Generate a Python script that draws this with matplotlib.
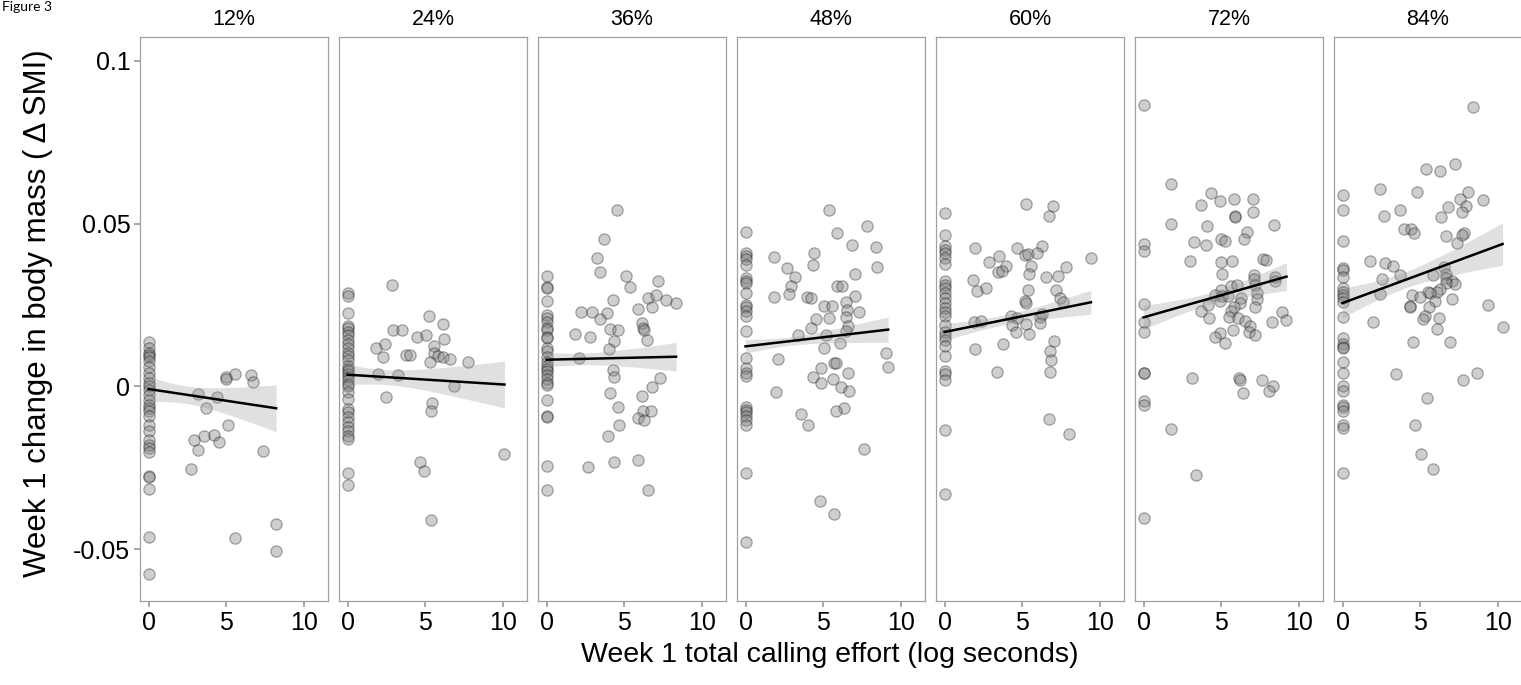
import numpy as np
import matplotlib
matplotlib.use('Agg')
import matplotlib.pyplot as plt

# ---- data ----
panels = ['12%', '24%', '36%', '48%', '60%', '72%', '84%']

# birds with zero calling effort (x = 0), change in SMI
zero_12 = [0.0135, 0.0118, 0.0102, 0.0097, 0.0090, 0.0077, 0.0061, 0.0041, 0.0026, 0.0010,
           0.0, -0.0010, -0.0026, -0.0041, -0.0056, -0.0067, -0.0077, -0.0092, -0.0118,
           -0.0138, -0.0164, -0.0179, -0.0190, -0.0200, -0.0275, -0.0279, -0.0316, -0.0461, -0.0577]
zero_24 = [0.0287, 0.0278, 0.0224, 0.0187, 0.0178, 0.0167, 0.0159, 0.0144, 0.0131, 0.0117,
           0.0102, 0.0094, 0.0080, 0.0063, 0.0054, 0.0046, 0.0038, 0.0029, 0.0019, 0.0008,
           0.0000, -0.0017, -0.0038, -0.0068, -0.0079, -0.0094, -0.0108, -0.0125, -0.0136,
           -0.0151, -0.0162, -0.0265, -0.0303]
zero_36 = [0.0339, 0.0304, 0.0301, 0.0261, 0.0218, 0.0210, 0.0199, 0.0178, 0.0174, 0.0151,
           0.0148, 0.0117, 0.0108, 0.0091, 0.0074, 0.0063, 0.0054, 0.0046, 0.0034, 0.0023,
           0.0011, 0.0003, -0.0042, -0.0091, -0.0094, -0.0244, -0.0318]
zero_48 = [0.0475, 0.0409, 0.0400, 0.0392, 0.0373, 0.0333, 0.0324, 0.0318, 0.0287, 0.0250,
           0.0244, 0.0233, 0.0216, 0.0170, 0.0087, 0.0057, 0.0040, 0.0032, -0.0062, -0.0071,
           -0.0079, -0.0091, -0.0102, -0.0117, -0.0267, -0.0477]
zero_60 = [0.0534, 0.0466, 0.0432, 0.0420, 0.0409, 0.0394, 0.0375, 0.0324, 0.0312, 0.0301,
           0.0287, 0.0273, 0.0256, 0.0242, 0.0227, 0.0216, 0.0188, 0.0167, 0.0156, 0.0142,
           0.0125, 0.0094, 0.0046, 0.0038, 0.0019, -0.0133, -0.0329]
zero_72 = [0.0865, 0.0437, 0.0415, 0.0253, 0.0199, 0.0167, 0.0042, 0.0040, -0.0045, -0.0057, -0.0403]
zero_84 = [0.0588, 0.0543, 0.0445, 0.0363, 0.0358, 0.0337, 0.0301, 0.0290, 0.0281, 0.0270,
           0.0259, 0.0214, 0.0148, 0.0131, 0.0122, 0.0117, 0.0076, 0.0042, 0.0000, -0.0015,
           -0.0057, -0.0062, -0.0074, -0.0119, -0.0128, -0.0267]

# birds that called: (log seconds, change in SMI)
x_12 = [4.96, 5.0, 5.56, 6.62, 6.72, 3.21, 4.38, 3.69, 5.13, 3.60, 4.20, 2.95, 4.53, 3.19,
        7.39, 2.72, 8.21, 5.56, 8.21]
y_12 = [0.0029, 0.0022, 0.0039, 0.0036, 0.0015, -0.0024, -0.0031, -0.0065, -0.0118, -0.0151,
        -0.0149, -0.0164, -0.0171, -0.0195, -0.0198, -0.0254, -0.0424, -0.0464, -0.0505]

x_24 = [2.84, 5.22, 6.17, 2.94, 3.53, 4.50, 5.04, 6.19, 1.80, 2.40, 2.29, 3.74, 4.00, 5.58,
        5.58, 5.80, 6.13, 6.58, 5.30, 7.75, 1.95, 3.27, 6.88, 2.49, 5.41, 5.37, 10.1, 4.65,
        4.89, 5.37]
y_24 = [0.0312, 0.0215, 0.0192, 0.0174, 0.0174, 0.0153, 0.0159, 0.0147, 0.0119, 0.0131,
        0.0089, 0.0097, 0.0097, 0.0125, 0.0102, 0.0094, 0.0089, 0.0085, 0.0074, 0.0076,
        0.0038, 0.0034, 0.0000, -0.0032, -0.0051, -0.0076, -0.0208, -0.0233, -0.0261, -0.0409]

x_36 = [4.54, 3.68, 3.25, 3.46, 5.12, 5.40, 7.16, 4.30, 6.56, 7.05, 6.77, 7.70, 8.34, 5.91,
        2.22, 2.90, 3.89, 3.46, 6.13, 4.09, 4.62, 6.24, 6.30, 1.81, 2.80, 4.32, 6.47, 4.04,
        2.11, 4.30, 4.37, 7.31, 6.80, 4.11, 6.13, 4.58, 6.24, 6.73, 5.91, 6.30, 4.69, 3.98,
        2.65, 4.32, 5.87, 6.56]
y_36 = [0.0542, 0.0454, 0.0394, 0.0352, 0.0339, 0.0304, 0.0324, 0.0265, 0.0270, 0.0281,
        0.0244, 0.0264, 0.0256, 0.0239, 0.0227, 0.0229, 0.0225, 0.0207, 0.0195, 0.0176,
        0.0174, 0.0178, 0.0174, 0.0161, 0.0153, 0.0140, 0.0142, 0.0114, 0.0088, 0.0049,
        0.0028, 0.0026, -0.0002, -0.0019, -0.0028, -0.0062, -0.0074, -0.0074, -0.0096,
        -0.0104, -0.0117, -0.0151, -0.0248, -0.0233, -0.0227, -0.0318]

x_48 = [5.35, 7.83, 5.91, 6.86, 8.37, 4.39, 1.81, 4.32, 2.67, 8.49, 3.16, 7.03, 2.95, 5.89,
        6.24, 2.80, 1.81, 3.98, 4.24, 7.03, 5.05, 5.59, 6.49, 6.54, 7.31, 4.54, 5.38, 6.49,
        4.19, 6.60, 3.38, 5.20, 6.49, 6.06, 5.05, 9.03, 2.11, 5.70, 5.85, 9.18, 4.84, 6.60,
        4.34, 5.63, 4.84, 6.13, 6.65, 1.98, 6.34, 5.81, 3.59, 4.02, 7.61, 4.77, 5.70]
y_48 = [0.0543, 0.0492, 0.0471, 0.0434, 0.0428, 0.0409, 0.0398, 0.0373, 0.0363, 0.0366,
        0.0335, 0.0344, 0.0307, 0.0307, 0.0307, 0.0284, 0.0275, 0.0276, 0.0273, 0.0278,
        0.0248, 0.0248, 0.0259, 0.0236, 0.0229, 0.0208, 0.0210, 0.0212, 0.0180, 0.0185,
        0.0159, 0.0159, 0.0170, 0.0133, 0.0117, 0.0102, 0.0085, 0.0072, 0.0072, 0.0059,
        0.0057, 0.0040, 0.0028, 0.0023, 0.0009, -0.0002, -0.0014, -0.0017, -0.0065,
        -0.0077, -0.0085, -0.0119, -0.0193, -0.0352, -0.0392]

x_60 = [5.27, 6.99, 6.73, 1.94, 4.69, 6.30, 5.16, 5.38, 5.98, 3.48, 9.42, 2.84, 3.98, 5.59,
        7.81, 3.44, 3.70, 5.42, 6.52, 7.31, 1.83, 2.09, 2.65, 5.38, 7.16, 7.42, 7.63, 5.16,
        5.23, 1.87, 2.32, 4.26, 4.69, 4.34, 5.23, 6.13, 6.30, 6.13, 4.62, 5.42, 7.03, 3.76,
        1.94, 6.77, 6.88, 3.38, 6.77, 6.73, 8.02]
y_60 = [0.0560, 0.0553, 0.0522, 0.0426, 0.0426, 0.0432, 0.0403, 0.0407, 0.0411, 0.0401,
        0.0394, 0.0383, 0.0369, 0.0369, 0.0367, 0.0352, 0.0355, 0.0346, 0.0335, 0.0339,
        0.0326, 0.0293, 0.0303, 0.0295, 0.0295, 0.0273, 0.0258, 0.0261, 0.0256, 0.0199,
        0.0202, 0.0216, 0.0210, 0.0190, 0.0193, 0.0212, 0.0221, 0.0195, 0.0167, 0.0161,
        0.0139, 0.0131, 0.0114, 0.0110, 0.0082, 0.0043, 0.0043, -0.0100, -0.0145]

x_72 = [1.78, 4.37, 3.68, 4.90, 5.83, 7.05, 5.87, 5.87, 7.05, 1.78, 4.11, 8.41, 6.67, 6.47,
        4.97, 5.23, 3.25, 4.00, 2.97, 4.97, 5.72, 7.70, 7.91, 5.06, 7.10, 7.12, 8.49, 8.49,
        5.61, 6.04, 7.16, 4.97, 4.58, 5.06, 5.44, 6.26, 7.27, 7.27, 4.90, 4.15, 6.19, 7.20,
        5.83, 5.66, 3.68, 8.88, 4.22, 5.51, 6.09, 6.52, 9.20, 8.28, 6.84, 5.76, 4.90, 6.77,
        7.16, 4.62, 5.23, 3.12, 6.13, 6.24, 7.63, 8.34, 8.06, 6.41, 1.78, 3.40]
y_72 = [0.0621, 0.0593, 0.0557, 0.0570, 0.0577, 0.0574, 0.0522, 0.0520, 0.0536, 0.0500,
        0.0494, 0.0496, 0.0474, 0.0452, 0.0454, 0.0445, 0.0443, 0.0434, 0.0386, 0.0381,
        0.0384, 0.0392, 0.0389, 0.0346, 0.0341, 0.0329, 0.0335, 0.0324, 0.0309, 0.0312,
        0.0312, 0.0295, 0.0281, 0.0278, 0.0278, 0.0273, 0.0287, 0.0267, 0.0261, 0.0250,
        0.0256, 0.0244, 0.0244, 0.0231, 0.0231, 0.0227, 0.0210, 0.0214, 0.0210, 0.0201,
        0.0204, 0.0199, 0.0184, 0.0173, 0.0165, 0.0167, 0.0159, 0.0151, 0.0133, 0.0026,
        0.0026, 0.0019, 0.0019, 0.0002, -0.0014, -0.0020, -0.0131, -0.0273]

x_84 = [8.37, 7.25, 5.39, 6.29, 2.42, 4.79, 8.05, 7.53, 9.01, 7.96, 6.76, 3.67, 7.68, 2.64,
        6.33, 3.93, 4.40, 4.57, 7.79, 7.68, 6.65, 7.36, 1.78, 2.75, 3.24, 6.50, 3.71, 5.79,
        6.65, 6.65, 2.53, 7.04, 7.21, 6.65, 6.29, 6.07, 5.49, 5.64, 2.42, 4.46, 4.99, 7.06,
        5.97, 9.36, 4.31, 4.31, 5.54, 1.95, 6.22, 5.32, 5.15, 6.07, 10.3, 4.51, 6.93, 3.43,
        8.65, 7.73, 5.43, 4.64, 5.06, 5.79]
y_84 = [0.0857, 0.0684, 0.0667, 0.0663, 0.0605, 0.0596, 0.0596, 0.0574, 0.0571, 0.0554,
        0.0551, 0.0542, 0.0537, 0.0522, 0.0521, 0.0483, 0.0483, 0.0471, 0.0471, 0.0466,
        0.0463, 0.0441, 0.0386, 0.0378, 0.0369, 0.0367, 0.0343, 0.0341, 0.0346, 0.0333,
        0.0329, 0.0324, 0.0315, 0.0318, 0.0298, 0.0290, 0.0290, 0.0286, 0.0284, 0.0282,
        0.0276, 0.0267, 0.0261, 0.0250, 0.0247, 0.0245, 0.0244, 0.0199, 0.0210, 0.0216,
        0.0207, 0.0176, 0.0182, 0.0136, 0.0136, 0.0038, 0.0042, 0.0019, -0.0037, -0.0117,
        -0.0208, -0.0253]

zeros = [zero_12, zero_24, zero_36, zero_48, zero_60, zero_72, zero_84]
xs_call = [x_12, x_24, x_36, x_48, x_60, x_72, x_84]
ys_call = [y_12, y_24, y_36, y_48, y_60, y_72, y_84]

# fitted line (model prediction) at x = 0 and slope per log second
fit_icpt = [-0.0008, 0.0036, 0.0082, 0.0123, 0.0167, 0.0212, 0.0256]
fit_slope = [-0.00072, -0.0003, 0.00011, 0.00056, 0.00097, 0.00136, 0.00176]
# half-width of the confidence ribbon: at x = 0, narrowest, at the last x
band_start = [0.0038, 0.0031, 0.0023, 0.0021, 0.0026, 0.0037, 0.0045]
band_min = [0.0027, 0.0023, 0.0018, 0.0013, 0.0015, 0.0018, 0.0025]
band_end = [0.0072, 0.0072, 0.0044, 0.0039, 0.0037, 0.0043, 0.0065]

# ---- figure ----
W, H = 1521, 685
fig = plt.figure(figsize=(W / 100, H / 100), dpi=100)
plt.rcParams['font.family'] = ['Liberation Sans', 'DejaVu Sans']

frame_col = '#a0a0a0'
for i, name in enumerate(panels):
    left = 140 + i * 199.0
    ax = fig.add_axes([left / W, 1 - 601 / H, 188 / W, 564 / H])

    x_all = np.concatenate([np.zeros(len(zeros[i])), xs_call[i]])
    y_all = np.concatenate([zeros[i], ys_call[i]])
    ax.scatter(x_all, y_all, s=66, facecolor=(0.5, 0.5, 0.5, 0.38),
               edgecolor=(0, 0, 0, 0.32), linewidth=0.9, zorder=2)

    # ribbon + line over the range of the data
    xe = max(xs_call[i])
    h0, hm, h1 = band_start[i], band_min[i], band_end[i]
    r = np.sqrt((h0 ** 2 - hm ** 2) / (h1 ** 2 - hm ** 2))
    x0 = r * xe / (1 + r)
    k = (h0 ** 2 - hm ** 2) / x0 ** 2
    xx = np.linspace(0, xe, 100)
    yy = fit_icpt[i] + fit_slope[i] * xx
    hw = np.sqrt(hm ** 2 + k * (xx - x0) ** 2)
    ax.fill_between(xx, yy - hw, yy + hw, color='#999999', alpha=0.3, lw=0, zorder=3)
    ax.plot(xx, yy, color='black', lw=1.8, zorder=4)

    ax.set_xlim(-0.55, 11.55)
    ax.set_ylim(-0.0659, 0.1073)
    ax.set_xticks([0, 5, 10])
    ax.set_xticklabels(['0', '5', '10'])
    ax.set_yticks([-0.05, 0, 0.05, 0.1])
    if i == 0:
        ax.set_yticklabels(['-0.05', '0', '0.05', '0.1'])
    else:
        ax.tick_params(axis='y', left=False, labelleft=False)
    ax.tick_params(length=4, width=1.3, color=frame_col, labelsize=18, pad=3)
    for sp in ax.spines.values():
        sp.set_color(frame_col)
        sp.set_linewidth(0.9)
    ax.text(0.5, 1.012, name, transform=ax.transAxes, ha='center', va='bottom', fontsize=15.5)

fig.text(830 / W, 1 - 655 / H, 'Week 1 total calling effort (log seconds)',
         ha='center', va='center', fontsize=20.5)
fig.text(38 / W, 1 - 313 / H, 'Week 1 change in body mass (\u2009\u0394\u2009SMI)',
         ha='center', va='center', rotation=90, fontsize=22.5)
fig.text(2 / W, 1 - 11 / H, 'Figure 3', ha='left', va='baseline', fontsize=10,
         family=['Lato', 'DejaVu Sans'])

fig.savefig('out.png', dpi=100)
